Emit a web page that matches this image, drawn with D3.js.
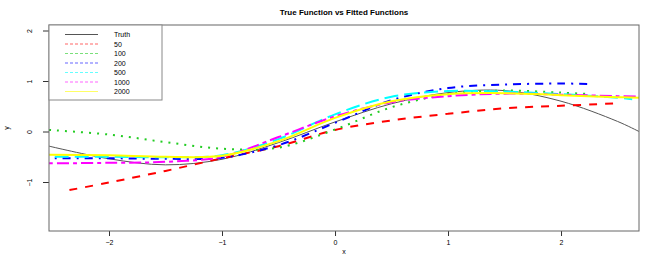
<!DOCTYPE html>
<html>
<head>
<meta charset="utf-8">
<script src="https://cdn.jsdelivr.net/npm/d3@7"></script>
<style>
body{margin:0;background:#fff;}
text{font-family:"Liberation Sans",Arial,Helvetica,sans-serif;}
</style>
</head>
<body>
<svg id="chart" width="664" height="262"></svg>
<script>
// x positions and values of each curve
var truthX=[-2.53,-2,-1.5,-1,-0.5,0,0.5,1,1.5,2,2.5,2.69];
var truthY=[-0.29,-0.54,-0.66,-0.55,-0.22,0.19,0.55,0.77,0.81,0.60,0.20,0.0];

var fit50X=[-2.35,-2,-1.5,-1,-0.5,0,0.5,1,1.5,2,2.52];
var fit50Y=[-1.16,-1.01,-0.78,-0.53,-0.29,0.03,0.22,0.35,0.46,0.51,0.56];

var fit100X=[-2.53,-2,-1.5,-1,-0.5,0,0.5,1,1.5,2,2.26];
var fit100Y=[0.03,-0.06,-0.21,-0.34,-0.32,0.04,0.48,0.74,0.81,0.77,0.74];

var fit200X=[-2.48,-2,-1.5,-1,-0.5,0,0.5,1,1.5,2,2.26];
var fit200Y=[-0.53,-0.53,-0.54,-0.52,-0.27,0.17,0.62,0.86,0.93,0.95,0.94];

var fit500X=[-2.48,-2,-1.5,-1,-0.5,0,0.5,1,1.5,2,2.5,2.63];
var fit500Y=[-0.50,-0.50,-0.51,-0.47,-0.15,0.34,0.69,0.80,0.79,0.74,0.67,0.64];

var fit1000X=[-2.53,-2,-1.5,-1,-0.5,0,0.5,1,1.5,2,2.5,2.69];
var fit1000Y=[-0.63,-0.62,-0.60,-0.50,-0.11,0.30,0.58,0.70,0.75,0.73,0.70,0.69];

var fit2000X=[-2.53,-2,-1.5,-1,-0.5,0,0.5,1,1.5,2,2.5,2.69];
var fit2000Y=[-0.46,-0.47,-0.50,-0.48,-0.19,0.27,0.60,0.74,0.76,0.72,0.68,0.67];

var legendLabels=["Truth","50","100","200","500","1000","2000"];
var xTicks=[-2,-1,0,1,2];
var yTicks=[-1,0,1,2];

// style per series (same order as legend)
var colors=["#555555","#ff0000","#22cc22","#0000ff","#00ffff","#ff00ff","#ffff00"];
var dashes=[null,"8,8","2,6","2,6,8,6","14,6","4,4,12,4",null];
var widths=[1,2,2,2,2,2,2];

var svg=d3.select("#chart");
var pLeft=49,pRight=639,pTop=25,pBottom=231; // plot box

var x=d3.scaleLinear().domain([-2.531,2.690]).range([pLeft,pRight]);
var y=d3.scaleLinear().domain([-1.970,2.109]).range([pBottom,pTop]);

var line=d3.line().x(function(d){return x(d[0]);}).y(function(d){return y(d[1]);}).curve(d3.curveCatmullRom.alpha(0.5));

function zip(a,b){
	var out=[];
	for(var i=0;i<a.length;i++) out.push([a[i],b[i]]);
	return out;
}

var series=[zip(truthX,truthY),zip(fit50X,fit50Y),zip(fit100X,fit100Y),zip(fit200X,fit200Y),
            zip(fit500X,fit500Y),zip(fit1000X,fit1000Y),zip(fit2000X,fit2000Y)];

// clip curves to plot box
svg.append("clipPath").attr("id","box").append("rect")
	.attr("x",pLeft).attr("y",pTop).attr("width",pRight-pLeft).attr("height",pBottom-pTop);

for(var i=0;i<series.length;i++){
	svg.append("path").attr("d",line(series[i])).attr("clip-path","url(#box)")
		.style("fill","none").attr("stroke",colors[i]).attr("stroke-width",widths[i])
		.attr("stroke-dasharray",dashes[i]);
}

// x axis
var xa=svg.append("g").attr("transform","translate(0,"+pBottom+")")
	.call(d3.axisBottom(x).tickValues(xTicks).tickSize(5).tickPadding(4).tickFormat(d3.format("d")));
xa.select(".domain").remove();
xa.selectAll("text").style("font-size","7px").attr("fill","#000");
xa.selectAll("line").attr("stroke","#333");

// y axis, labels turned like R does
var ya=svg.append("g").attr("transform","translate("+pLeft+",0)")
	.call(d3.axisLeft(y).tickValues(yTicks).tickSize(6).tickFormat(d3.format("d")));
ya.select(".domain").remove();
ya.selectAll("line").attr("stroke","#333");
ya.selectAll("text").style("font-size","7px").attr("fill","#000")
	.attr("x",null).attr("dy",null)
	.attr("transform","translate(-17,0) rotate(-90)").attr("text-anchor","middle");

// box
svg.append("rect").attr("x",pLeft).attr("y",pTop).attr("width",pRight-pLeft).attr("height",pBottom-pTop)
	.style("fill","none").attr("stroke","#666").attr("stroke-width",1);

// titles
svg.append("text").attr("x",(pLeft+pRight)/2).attr("y",15).attr("text-anchor","middle")
	.style("font-size","8px").style("font-weight","bold").text("True Function vs Fitted Functions");
svg.append("text").attr("x",(pLeft+pRight)/2).attr("y",254).attr("text-anchor","middle")
	.style("font-size","7px").text("x");
svg.append("text").attr("transform","translate(9,128) rotate(-90)").attr("text-anchor","middle")
	.style("font-size","7px").text("y");

// legend
var lg=svg.append("g");
lg.append("rect").attr("x",pLeft).attr("y",pTop).attr("width",113).attr("height",75)
	.style("fill","#fff").attr("stroke","#888").attr("stroke-width",1);
legendLabels.forEach(function(lab,i){
	var ly=34.5+i*9.5;
	lg.append("line").attr("x1",65).attr("x2",98).attr("y1",ly).attr("y2",ly)
		.attr("stroke",colors[i]).attr("stroke-width",1).attr("stroke-dasharray",dashes[i]?"3,2":null)
		.attr("opacity",i==0?1:0.6);
	lg.append("text").attr("x",114).attr("y",ly+2.5).style("font-size","7px").text(lab);
});
</script>
</body>
</html>
